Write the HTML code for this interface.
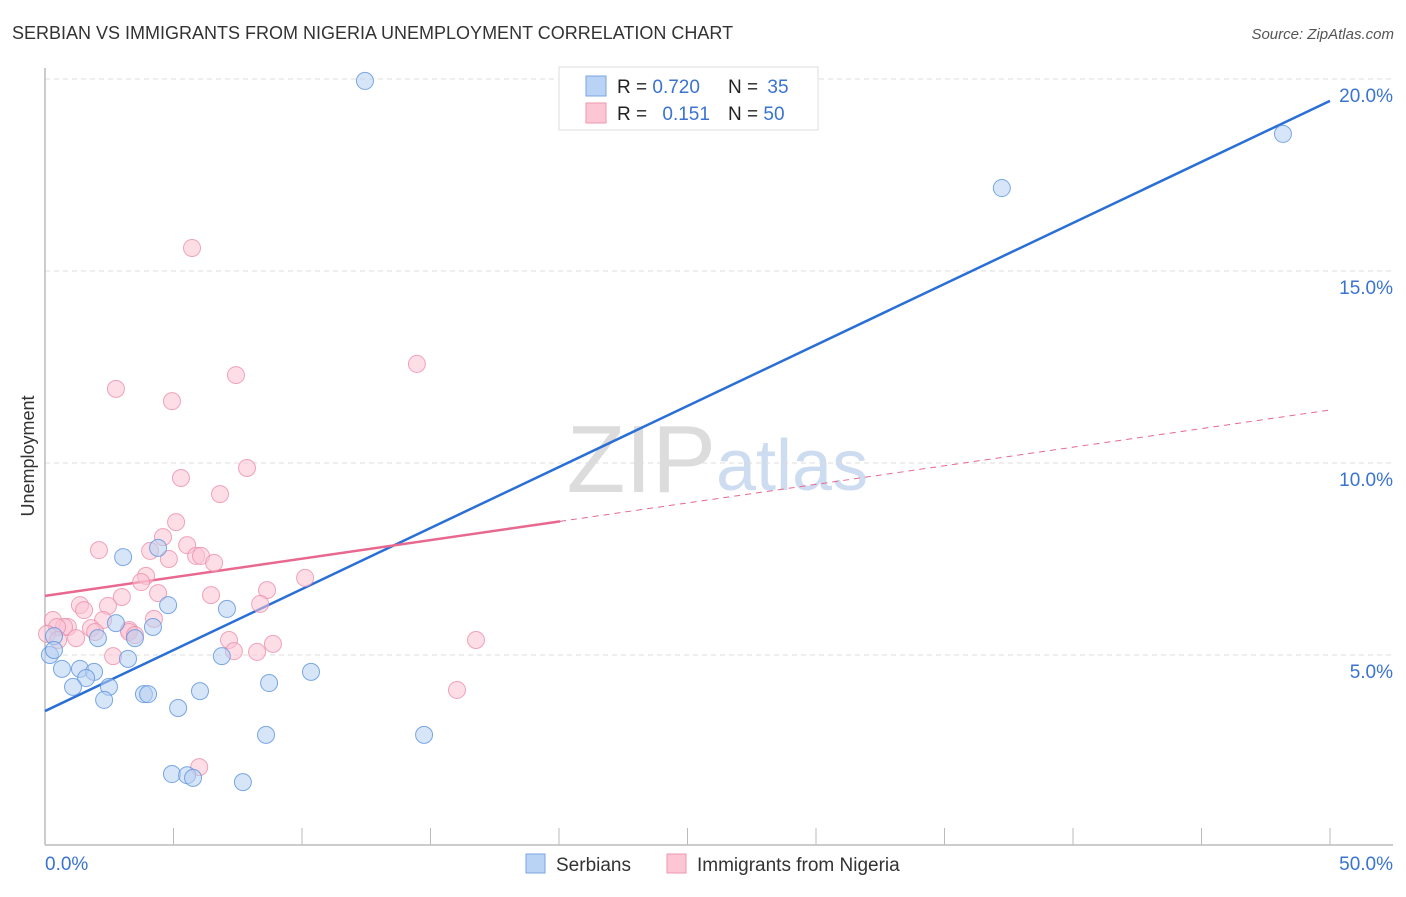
<!DOCTYPE html>
<html><head><meta charset="utf-8"><style>
body{margin:0;background:#fff;font-family:"Liberation Sans",sans-serif;}
svg text{font-family:"Liberation Sans",sans-serif;}
</style></head><body>
<svg id="chart" width="1406" height="892" viewBox="0 0 1406 892" xmlns="http://www.w3.org/2000/svg">
<text x="12" y="39" font-size="18" fill="#333">SERBIAN VS IMMIGRANTS FROM NIGERIA UNEMPLOYMENT CORRELATION CHART</text>
<text x="1394" y="39" font-size="15" font-style="italic" fill="#555" text-anchor="end">Source: ZipAtlas.com</text>
<text x="716" y="492" font-size="96" font-family="Liberation Serif" fill="#dcdcdc" text-anchor="end">ZIP</text>
<text x="716" y="490" font-size="72" fill="#cddcf0">atlas</text>
<text transform="translate(34,456) rotate(-90)" font-size="18" fill="#333" text-anchor="middle">Unemployment</text>
<g id="grid"></g><g id="axes"></g><g id="lines"></g><g id="pts"></g>
<g>
<rect x="559" y="67" width="259" height="63" fill="#fff" stroke="#ddd"/>
<rect x="586" y="76" width="20" height="20" fill="#b9d3f4" stroke="#7aa6e0"/>
<rect x="586" y="103" width="20" height="20" fill="#fcc6d5" stroke="#ee97b0"/>
<text x="617" y="93" font-size="19" fill="#222">R = <tspan fill="#3a73d0">0.720</tspan></text>
<text x="728" y="93" font-size="19" fill="#222">N = <tspan fill="#3a73d0" dx="4">35</tspan></text>
<text x="617" y="120" font-size="19" fill="#222">R = <tspan fill="#3a73d0" dx="10">0.151</tspan></text>
<text x="728" y="120" font-size="19" fill="#222">N = <tspan fill="#3a73d0">50</tspan></text>
</g>
<g>
<rect x="526" y="854" width="19" height="19" fill="#b9d3f4" stroke="#7aa6e0"/>
<text x="556" y="871" font-size="19" fill="#333">Serbians</text>
<rect x="667" y="854" width="19" height="19" fill="#fcc6d5" stroke="#ee97b0"/>
<text x="697" y="871" font-size="19" fill="#333">Immigrants from Nigeria</text>
</g>
</svg>
<script>
const xTickLabels=["0.0%","50.0%"];
const yTicks=[5,10,15,20];
const yTickLabels=["5.0%","10.0%","15.0%","20.0%"];
const serbX=[12.45,48.17,37.23,3.04,4.4,4.79,7.08,2.76,4.2,3.5,2.06,0.35,0.19,0.35,3.23,6.88,0.66,1.36,1.91,1.6,1.09,2.49,2.3,3.85,4.01,6.03,5.18,8.72,10.35,8.6,14.75,4.94,5.53,5.76,7.7];
const serbY=[19.95,18.57,17.16,7.55,7.79,6.3,6.2,5.83,5.73,5.44,5.44,5.49,5.0,5.13,4.9,4.97,4.64,4.64,4.56,4.4,4.17,4.17,3.83,3.98,3.98,4.06,3.62,4.27,4.56,2.92,2.92,1.9,1.87,1.8,1.69];
const nigX=[5.72,2.76,4.94,7.43,14.47,5.29,7.86,6.81,5.1,4.59,4.09,2.1,5.53,5.88,4.82,6.07,6.58,3.93,3.74,10.12,8.64,4.4,6.46,2.99,1.36,2.45,1.52,8.37,4.24,2.26,0.31,0.89,1.79,0.74,3.27,0.47,1.95,3.27,3.5,1.21,0.08,0.51,7.16,8.87,16.77,7.35,8.25,2.65,16.03,6.0];
const nigY=[15.6,11.93,11.61,12.29,12.58,9.61,9.87,9.19,8.46,8.07,7.71,7.73,7.86,7.58,7.5,7.58,7.4,7.06,6.9,7.01,6.69,6.61,6.56,6.51,6.3,6.28,6.17,6.33,5.94,5.91,5.91,5.73,5.7,5.73,5.65,5.73,5.6,5.6,5.52,5.44,5.55,5.39,5.39,5.29,5.39,5.1,5.08,4.97,4.09,2.08];
const serbFit=[3.54,19.43];
const nigFit=[6.54,11.38];
const solidEnd=20.04;
const NS="http://www.w3.org/2000/svg";
const X=v=>45+v/50*1285, Y=v=>655-(v-5)*38.4;
function mk(p,t,a){const e=document.createElementNS(NS,t);for(const k in a)e.setAttribute(k,a[k]);document.getElementById(p).appendChild(e);return e;}
yTicks.forEach((t,i)=>{
 const g=mk('grid','line',{x1:45,x2:1393,y1:Y(t),y2:Y(t),stroke:'#ddd','stroke-dasharray':'5,4'});
 
 
 const l=mk('grid','text',{x:1393,y:Y(t)+23,'font-size':19,fill:'#3a73d0','text-anchor':'end'});l.textContent=yTickLabels[i];
 
 
});
const ax=mk('axes','line',{x1:45,x2:1393,y1:845,y2:845,stroke:'#bbb','stroke-width':1.5});


const ay=mk('axes','line',{x1:45,x2:45,y1:68,y2:845,stroke:'#bbb','stroke-width':1.5});


for(let i=0;i<=10;i++){const t=mk('axes','line',{x1:X(i*5),x2:X(i*5),y1:828,y2:845,stroke:'#bbb'});
 
 }
[[0,'start'],[50,'end']].forEach((d,i)=>{const t=mk('axes','text',{x:d[0]?1393:45,y:870,'font-size':19,fill:'#3a73d0','text-anchor':d[1]});t.textContent=xTickLabels[i];
 
 });
function pts(xs,ys,f,s,n){xs.forEach((x,i)=>{const c=mk('pts','circle',{cx:X(x),cy:Y(ys[i]),r:8.5,fill:f,'fill-opacity':0.55,stroke:s,'stroke-opacity':0.8,'stroke-width':1});
 
 });}
pts(nigX,nigY,'#fbc3d3','#ec8fab','nigeria-point');
pts(serbX,serbY,'#b6d0f3','#5d93dc','serbian-point');
const fy=(f,x)=>f[0]+(f[1]-f[0])*x/50;
const bl=mk('lines','line',{x1:X(0),y1:Y(fy(serbFit,0)),x2:X(50),y2:Y(fy(serbFit,50)),stroke:'#2a6fd6','stroke-width':2.5});


const pl=mk('lines','line',{x1:X(0),y1:Y(fy(nigFit,0)),x2:X(solidEnd),y2:Y(fy(nigFit,solidEnd)),stroke:'#e8688f','stroke-width':2.5});


const pd=mk('lines','line',{x1:X(solidEnd),y1:Y(fy(nigFit,solidEnd)),x2:X(50),y2:Y(fy(nigFit,50)),stroke:'#e8688f','stroke-width':1,'stroke-dasharray':'6,5'});


</script>
</body></html>
